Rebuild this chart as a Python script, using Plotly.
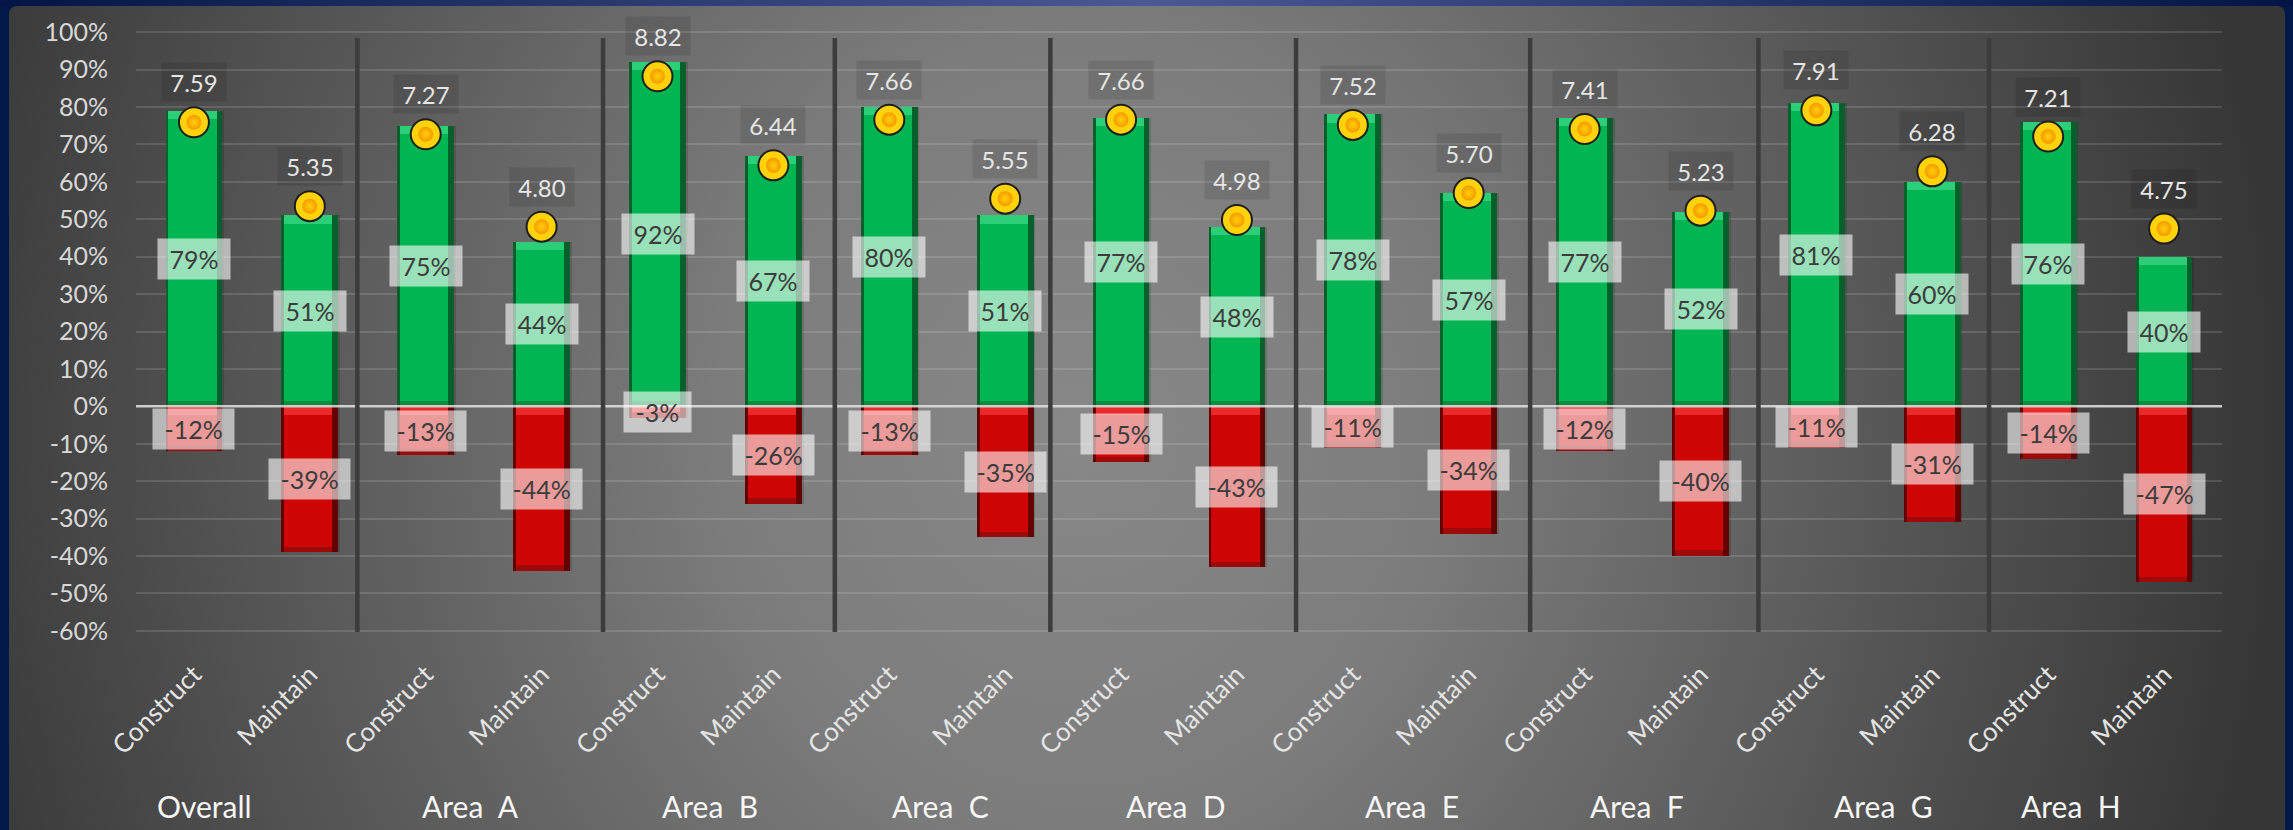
import base64
import plotly.graph_objects as go

# ---- data ----
groups = ["Overall", "Area\u00a0 A", "Area\u00a0 B", "Area\u00a0 C", "Area\u00a0 D",
          "Area\u00a0 E", "Area\u00a0 F", "Area\u00a0 G", "Area\u00a0 H"]
kinds = ["Construct", "Maintain"]

construct_pos = [79, 75, 92, 80, 77, 78, 77, 81, 76]
construct_neg = [-12, -13, -3, -13, -15, -11, -12, -11, -14]
maintain_pos = [51, 44, 67, 51, 48, 57, 52, 60, 40]
maintain_neg = [-39, -44, -26, -35, -43, -34, -40, -31, -47]
construct_score = [7.59, 7.27, 8.82, 7.66, 7.66, 7.52, 7.41, 7.91, 7.21]
maintain_score = [5.35, 4.80, 6.44, 5.55, 4.98, 5.70, 5.23, 6.28, 4.75]

ytick_vals = list(range(-60, 101, 10))
ytick_text = [f"{v}%" for v in ytick_vals]

# interleave into one row of categories: Construct, Maintain per group
pos_vals, neg_vals, scores, cat_text = [], [], [], []
for g in range(len(groups)):
    pos_vals += [construct_pos[g], maintain_pos[g]]
    neg_vals += [construct_neg[g], maintain_neg[g]]
    scores += [construct_score[g], maintain_score[g]]
    cat_text += kinds
xs = list(range(len(pos_vals)))

# ---- layout constants ----
W, H = 2293, 830
ML, MR, MT, MB = 136, 71, 31, 198
YMIN, YMAX = -60.3, 100.3
FONT = "Lato, 'Noto Sans', sans-serif"
BW = 0.49           # bar width in category units
EDGE_L = 0.025      # dark left edge
EDGE_R = 0.05       # dark right edge
BEVEL = 2.2         # bevel depth in % units

# separator lines between groups (category units) and group label nudges
sep_x = [1.41, 3.53, 5.53, 7.39, 9.51, 11.53, 13.50, 15.49]
label_nudge = [-0.41, -0.11, -0.05, -0.06, -0.03, 0.01, -0.05, 0.08, -0.30]

# ---- background artwork (navy frame + radial grey panel) ----
svg = f"""<svg xmlns='http://www.w3.org/2000/svg' width='{W}' height='{H}' viewBox='0 0 {W} {H}'>
<defs>
<linearGradient id='nv' x1='0' y1='0' x2='1' y2='0'>
<stop offset='0' stop-color='#021544'/><stop offset='0.5' stop-color='#4a5896'/><stop offset='1' stop-color='#021544'/>
</linearGradient>
<radialGradient id='gp' gradientUnits='userSpaceOnUse' cx='1080' cy='430' r='1200' gradientTransform='translate(1080 430) scale(1 1.1) translate(-1080 -430)'>
<stop offset='0' stop-color='#888888'/><stop offset='0.3' stop-color='#7c7c7c'/><stop offset='1' stop-color='#363636'/>
</radialGradient>
</defs>
<rect x='0' y='0' width='{W}' height='{H}' fill='#021848'/>
<rect x='0' y='0' width='{W}' height='7' fill='url(#nv)'/>
<rect x='9' y='6' width='2276' height='840' rx='8' ry='8' fill='url(#gp)'/>
</svg>"""
bg_uri = "data:image/svg+xml;base64," + base64.b64encode(svg.encode()).decode()

fig = go.Figure()


def bar(y, base, offset, width, color):
    fig.add_trace(go.Bar(
        x=xs, y=y, base=base, offset=offset, width=width,
        marker=dict(color=color, line=dict(width=0)),
        hoverinfo="skip", showlegend=False))


inner_off = -BW / 2 + EDGE_L
inner_w = BW - EDGE_L - EDGE_R
# soft drop shadow
bar(pos_vals, None, -BW / 2 + 0.015, BW, "rgba(0,0,0,0.14)")
bar(neg_vals, None, -BW / 2 + 0.015, BW, "rgba(0,0,0,0.14)")
# green bars
bar(pos_vals, None, -BW / 2, BW, "#06602c")
bar(pos_vals, None, inner_off, inner_w, "#00b552")
bar([BEVEL] * len(xs), [v - BEVEL for v in pos_vals], inner_off, inner_w, "#2ccf78")
bar([1.5] * len(xs), [0] * len(xs), inner_off, inner_w, "#078f3f")
# red bars
bar(neg_vals, None, -BW / 2, BW, "#640000")
bar(neg_vals, None, inner_off, inner_w, "#cf0505")
bar([-BEVEL] * len(xs), [0] * len(xs), inner_off, inner_w, "#ea2a2a")
bar([1.5] * len(xs), list(neg_vals), inner_off, inner_w, "#9c0a0a")

# score markers on the secondary axis (0-10 scale): gold disc with an orange core
fig.add_trace(go.Scatter(
    x=xs, y=scores, yaxis="y2", mode="markers",
    marker=dict(size=30, color="#ffd20a", line=dict(color="#1e1e1e", width=2)),
    hoverinfo="skip", showlegend=False))
fig.add_trace(go.Scatter(
    x=xs, y=scores, yaxis="y2", mode="markers",
    marker=dict(size=15, color="#f59a00",
                gradient=dict(type="radial", color="#ffcf0a"),
                line=dict(width=0)),
    hoverinfo="skip", showlegend=False))

annotations = []
nb = "\u00a0"
for i in xs:
    # percentage labels centred in each bar
    for v in (pos_vals[i], neg_vals[i]):
        annotations.append(dict(
            x=i, y=v / 2, xref="x", yref="y", text=f"{nb}{v}%{nb}", showarrow=False,
            font=dict(family=FONT, size=25, color="#3c3c3c"),
            bgcolor="rgba(255,255,255,0.6)", borderpad=5))
    # score labels above the markers
    annotations.append(dict(
        x=i, y=scores[i], xref="x", yref="y2", text=f"{scores[i]:.2f}", showarrow=False,
        yshift=40, font=dict(family=FONT, size=24, color="#e6e6e6"),
        bgcolor="rgba(0,0,0,0.10)", width=58, height=32, borderpad=3))

for g, name in enumerate(groups):
    annotations.append(dict(
        x=2 * g + 0.5 + label_nudge[g], y=0, xref="x", yref="paper", yshift=-194,
        text=name, showarrow=False, font=dict(family=FONT, size=30, color="#f6f6f6")))

shapes = [dict(type="line", xref="paper", yref="y", x0=0, x1=1, y0=0, y1=0,
               line=dict(color="rgba(225,225,225,0.85)", width=2.5), layer="above")]
for sx in sep_x:
    shapes.append(dict(type="line", xref="x", yref="y", x0=sx, x1=sx, y0=-60.3, y1=98.4,
                       line=dict(color="#3c3c3c", width=4.5), layer="above"))

fig.update_layout(
    width=W, height=H,
    margin=dict(l=ML, r=MR, t=MT, b=MB),
    paper_bgcolor="#021848", plot_bgcolor="rgba(0,0,0,0)",
    barmode="overlay", bargap=0,
    font=dict(family=FONT),
    xaxis=dict(range=[-0.5, len(xs) - 0.5], tickvals=xs, ticktext=cat_text,
               tickangle=-45, tickfont=dict(size=26, color="#e4e4e4"),
               ticks="outside", ticklen=16, tickcolor="rgba(0,0,0,0)",
               showgrid=False, zeroline=False, showline=False, fixedrange=True),
    yaxis=dict(range=[YMIN, YMAX], tickvals=ytick_vals, ticktext=ytick_text,
               tickfont=dict(size=25, color="#d8d8d8"),
               ticks="outside", ticklen=22, tickcolor="rgba(0,0,0,0)",
               showgrid=True, gridcolor="rgba(255,255,255,0.13)", gridwidth=1.5,
               zeroline=False, showline=False, fixedrange=True),
    yaxis2=dict(range=[YMIN / 10, YMAX / 10], overlaying="y", visible=False,
                fixedrange=True),
    images=[dict(source=bg_uri, xref="paper", yref="paper",
                 x=-ML / (W - ML - MR), y=(H - MB) / (H - MT - MB),
                 sizex=W / (W - ML - MR), sizey=H / (H - MT - MB),
                 xanchor="left", yanchor="top", sizing="stretch", layer="below")],
    annotations=annotations,
    shapes=shapes,
)

fig.write_html("out.html", config={"displayModeBar": False})
